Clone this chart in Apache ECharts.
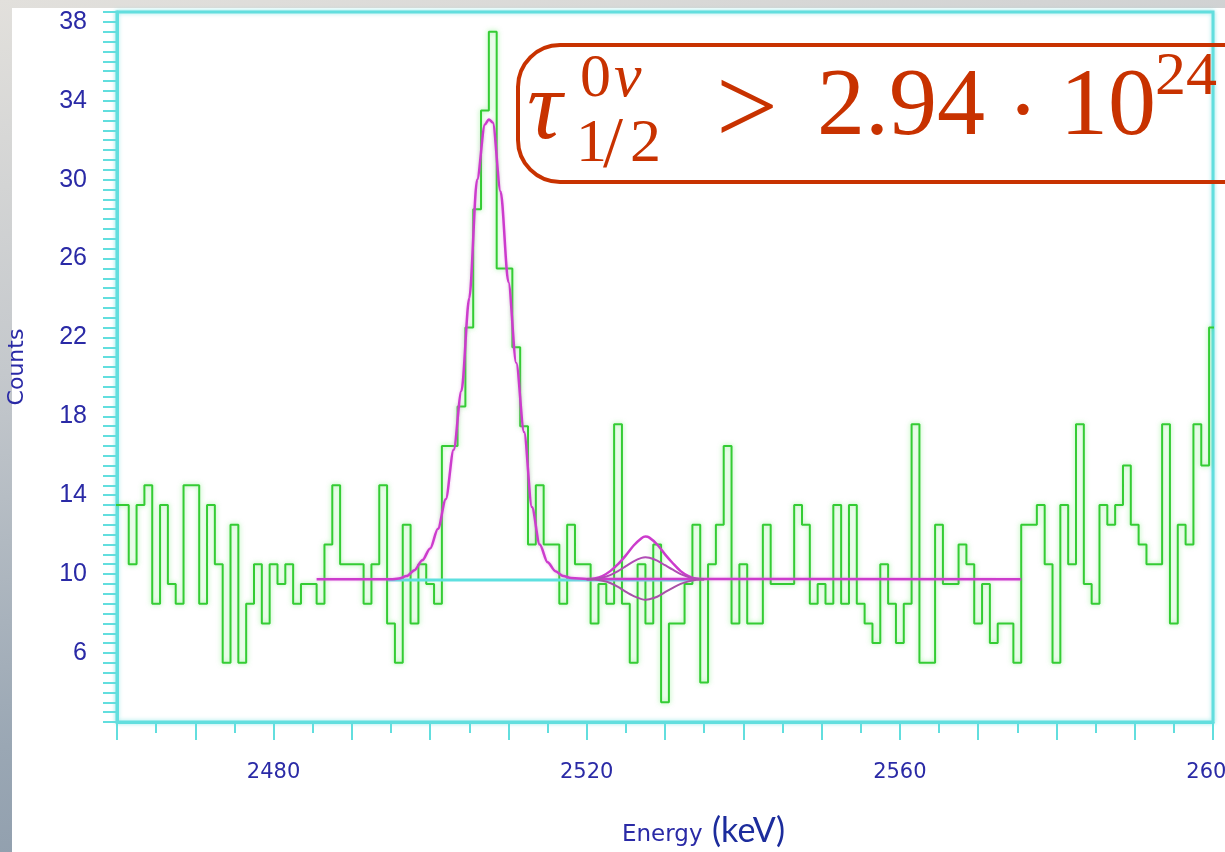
<!DOCTYPE html>
<html lang="en">
<head>
<meta charset="utf-8">
<title>Energy spectrum</title>
<script src="https://cdn.jsdelivr.net/npm/echarts@6.0.0/dist/echarts.min.js"></script>
<style>
  html, body { margin: 0; padding: 0; }
  body {
    width: 1225px; height: 852px; overflow: hidden; position: relative;
    background: linear-gradient(170deg, #e2e0dc 0%, #c4c8cc 35%, #9aa7b4 70%, #8393a4 100%);
  }
  #panel { position: absolute; left: 12px; top: 8px; right: 0; bottom: 0; background: #fff; }
  #main { position: absolute; left: 0; top: 0; width: 1225px; height: 852px; }
</style>
</head>
<body>
<div id="panel"></div>
<div id="main"></div>
<script type="text/javascript">
    // 1 keV bins, first bin centred on 2460 keV
    var binStart = 2460;
    var counts = [
        13.5, 13.5, 10.5, 13.5, 14.5, 8.5, 13.5, 9.5, 8.5, 14.5,      // 2460
        14.5, 8.5, 13.5, 10.5, 5.5, 12.5, 5.5, 8.5, 10.5, 7.5,        // 2470
        10.5, 9.5, 10.5, 8.5, 9.5, 9.5, 8.5, 11.5, 14.5, 10.5,        // 2480
        10.5, 10.5, 8.5, 10.5, 14.5, 7.5, 5.5, 12.5, 7.5, 10.5,       // 2490
        9.5, 8.5, 16.5, 16.5, 18.5, 22.5, 28.5, 33.5, 37.5, 25.5,     // 2500
        25.5, 21.5, 17.5, 11.5, 14.5, 11.5, 11.5, 8.5, 12.5, 10.5,    // 2510
        10.5, 7.5, 9.5, 8.5, 17.6, 8.5, 5.5, 10.5, 7.5, 11.5,         // 2520
        3.5, 7.5, 7.5, 9.5, 12.5, 4.5, 10.5, 12.5, 16.5, 7.5,         // 2530
        10.5, 7.5, 7.5, 12.5, 9.5, 9.5, 9.5, 13.5, 12.5, 8.5,         // 2540
        9.5, 8.5, 13.5, 8.5, 13.5, 8.5, 7.5, 6.5, 10.5, 8.5,          // 2550
        6.5, 8.5, 17.6, 5.5, 5.5, 12.5, 9.5, 9.5, 11.5, 10.5,         // 2560
        7.5, 9.5, 6.5, 7.5, 7.5, 5.5, 12.5, 12.5, 13.5, 10.5,         // 2570
        5.5, 13.5, 10.5, 17.6, 9.5, 8.5, 13.5, 12.5, 13.5, 15.5,      // 2580
        12.5, 11.5, 10.5, 10.5, 17.6, 7.5, 12.5, 11.5, 17.6, 15.5,    // 2590
        22.5                                                          // 2600
    ];

    // fitted peak + flat background
    var fitE = [2485.5, 2495, 2496, 2497, 2498, 2499, 2500, 2501, 2502, 2503, 2504, 2505, 2506, 2507, 2507.5,
                2508, 2509, 2510, 2511, 2512, 2513, 2514, 2515, 2516, 2517, 2518, 2520, 2575.5];
    var fitV = [9.74, 9.74, 9.77, 9.9, 10.2, 10.7, 11.3, 12.3, 13.8, 16.3, 19.3, 24.0, 30.0, 32.8, 33.05,
                32.9, 29.4, 24.8, 20.7, 17.2, 13.4, 11.5, 10.6, 10.15, 9.9, 9.8, 9.75, 9.74];

    // small structure near 2527 keV: upper / central / lower curves
    var bumpE = [2520, 2521, 2522, 2523, 2524, 2525, 2526, 2527, 2527.5, 2528, 2529, 2530, 2531, 2532, 2533, 2534, 2535];
    var bumpHi = [9.74, 9.78, 9.9, 10.15, 10.5, 10.95, 11.45, 11.82, 11.9, 11.85, 11.5, 11.0, 10.55, 10.15, 9.9, 9.76, 9.74];
    var bumpMid = [9.74, 9.75, 9.82, 9.95, 10.15, 10.4, 10.65, 10.82, 10.85, 10.83, 10.68, 10.45, 10.22, 10.0, 9.85, 9.76, 9.74];
    var bumpLo = [9.74, 9.72, 9.66, 9.55, 9.35, 9.1, 8.88, 8.73, 8.7, 8.72, 8.85, 9.08, 9.3, 9.5, 9.63, 9.71, 9.74];

    // flat background of the fit window
    var bgE = [2494.6, 2533.6];
    var bgV = [9.7, 9.7];

    var xLabels = [2480, 2520, 2560, 2600];
    var yLabels = [6, 10, 14, 18, 22, 26, 30, 34, 38];

    function pairs(xs, ys) {
        return xs.map(function (x, i) { return [x, ys[i]]; });
    }

    var histData = [];
    counts.forEach(function (c, i) {
        var lo = binStart - 0.5 + i;
        histData.push([lo, c], [lo + 1, c]);
    });

    var cyan = '#62dede';
    var navy = '#2a2aa6';
    var red = '#c83200';

    var myChart = echarts.init(document.getElementById('main'));

    var option = {
        backgroundColor: 'transparent',
        animation: false,
        grid: {
            left: 117, top: 12, width: 1096, height: 710,
            containLabel: false, outerBoundsMode: 'none',
            show: true, backgroundColor: '#fff',
            borderColor: cyan, borderWidth: 3,
            shadowColor: 'rgba(98,222,222,0.6)', shadowBlur: 4
        },
        xAxis: {
            type: 'value', min: 2460, max: 2600, interval: 10,
            axisLine: { show: true, onZero: false, lineStyle: { color: cyan, width: 3 } },
            axisTick: { show: true, length: 18, lineStyle: { color: cyan, width: 2 } },
            minorTick: { show: true, splitNumber: 2, length: 11, lineStyle: { color: cyan, width: 2 } },
            splitLine: { show: false },
            axisLabel: {
                margin: 40, color: navy, fontFamily: 'DejaVu Sans', fontSize: 21, hideOverlap: false,
                formatter: function (v) { return xLabels.indexOf(v) >= 0 ? String(v) : ''; }
            }
        },
        yAxis: {
            type: 'value', min: 2.5, max: 38.5, interval: 0.5,
            name: 'Counts', nameLocation: 'middle', nameRotate: 90, nameGap: 89,
            nameTextStyle: { color: navy, fontFamily: 'DejaVu Sans', fontSize: 22 },
            axisLine: { show: true, onZero: false, lineStyle: { color: cyan, width: 3 } },
            axisTick: { show: true, interval: 0, length: 14, lineStyle: { color: cyan, width: 2 } },
            splitLine: { show: false },
            axisLabel: {
                interval: 0, margin: 30, color: navy, fontFamily: 'Liberation Sans', fontSize: 25,
                formatter: function (v) { return yLabels.indexOf(v) >= 0 ? String(v) : ''; }
            }
        },
        graphic: [
            {
                type: 'text', left: 622, top: 824, z: 10,
                style: { text: 'Energy', fill: navy, font: '23px "DejaVu Sans"' }
            },
            {
                type: 'text', left: 712, top: 814, z: 10,
                style: { text: '(keV)', fill: '#1c2c9c', font: '34px Lato' }
            },
            {
                type: 'rect', z: 20,
                shape: { x: 518, y: 45, width: 800, height: 137, r: 42 },
                style: { stroke: red, lineWidth: 4, fill: 'none' }
            },
            {
                type: 'text', x: 527, y: 112, z: 21,
                style: { text: '\u03c4', fill: red, font: 'italic 98px "Liberation Serif"', verticalAlign: 'middle' }
            },
            {
                type: 'text', x: 580, y: 80, z: 21,
                style: { text: '0', fill: red, font: '62px "Liberation Serif"', verticalAlign: 'middle' }
            },
            {
                type: 'text', x: 614, y: 80, z: 21,
                style: { text: '\u03bd', fill: red, font: 'italic 62px "Liberation Serif"', verticalAlign: 'middle' }
            },
            {
                type: 'text', x: 576, y: 145, z: 21,
                style: { text: '1', fill: red, font: '62px "Liberation Serif"', verticalAlign: 'middle' }
            },
            {
                type: 'text', x: 603, y: 147, z: 21,
                style: { text: '/', fill: red, font: '72px "Liberation Serif"', verticalAlign: 'middle' }
            },
            {
                type: 'text', x: 630, y: 145, z: 21,
                style: { text: '2', fill: red, font: '62px "Liberation Serif"', verticalAlign: 'middle' }
            },
            {
                type: 'text', x: 716, y: 114, z: 21,
                style: { text: '>', fill: red, font: '110px "Liberation Serif"', verticalAlign: 'middle' }
            },
            {
                type: 'text', x: 817, y: 109, z: 21,
                style: { text: '2.94', fill: red, font: '96px "Liberation Serif"', verticalAlign: 'middle' }
            },
            {
                type: 'text', x: 1023, y: 116, z: 21,
                style: { text: '\u00b7', fill: red, font: '96px "Liberation Serif"', align: 'center', verticalAlign: 'middle' }
            },
            {
                type: 'text', x: 1060, y: 109, z: 21,
                style: { text: '10', fill: red, font: '96px "Liberation Serif"', verticalAlign: 'middle' }
            },
            {
                type: 'text', x: 1155, y: 78, z: 21,
                style: { text: '24', fill: red, font: '62px "Liberation Serif"', verticalAlign: 'middle' }
            }
        ],
        series: [
            {
                name: 'data', type: 'line', data: histData, symbol: 'none', z: 2,
                lineStyle: { color: '#34cc34', width: 2, shadowColor: 'rgba(70,230,70,0.55)', shadowBlur: 5 }
            },
            {
                name: 'background', type: 'line', data: pairs(bgE, bgV), symbol: 'none', z: 3,
                lineStyle: { color: '#5ee0e0', width: 3 }
            },
            {
                name: 'fit', type: 'line', data: pairs(fitE, fitV), symbol: 'none', z: 4,
                smooth: 0.3, smoothMonotone: 'x',
                lineStyle: { color: '#cc3ccc', width: 2.5, shadowColor: 'rgba(230,120,230,0.5)', shadowBlur: 3 }
            },
            {
                name: 'upper', type: 'line', data: pairs(bumpE, bumpHi), symbol: 'none', z: 5,
                smooth: 0.3, lineStyle: { color: '#cc3ccc', width: 2.5 }
            },
            {
                name: 'central', type: 'line', data: pairs(bumpE, bumpMid), symbol: 'none', z: 5,
                smooth: 0.3, lineStyle: { color: '#b04cb4', width: 2 }
            },
            {
                name: 'lower', type: 'line', data: pairs(bumpE, bumpLo), symbol: 'none', z: 5,
                smooth: 0.3, lineStyle: { color: '#a850a8', width: 2 }
            }
        ]
    };
    myChart.setOption(option);
</script>
</body>
</html>
